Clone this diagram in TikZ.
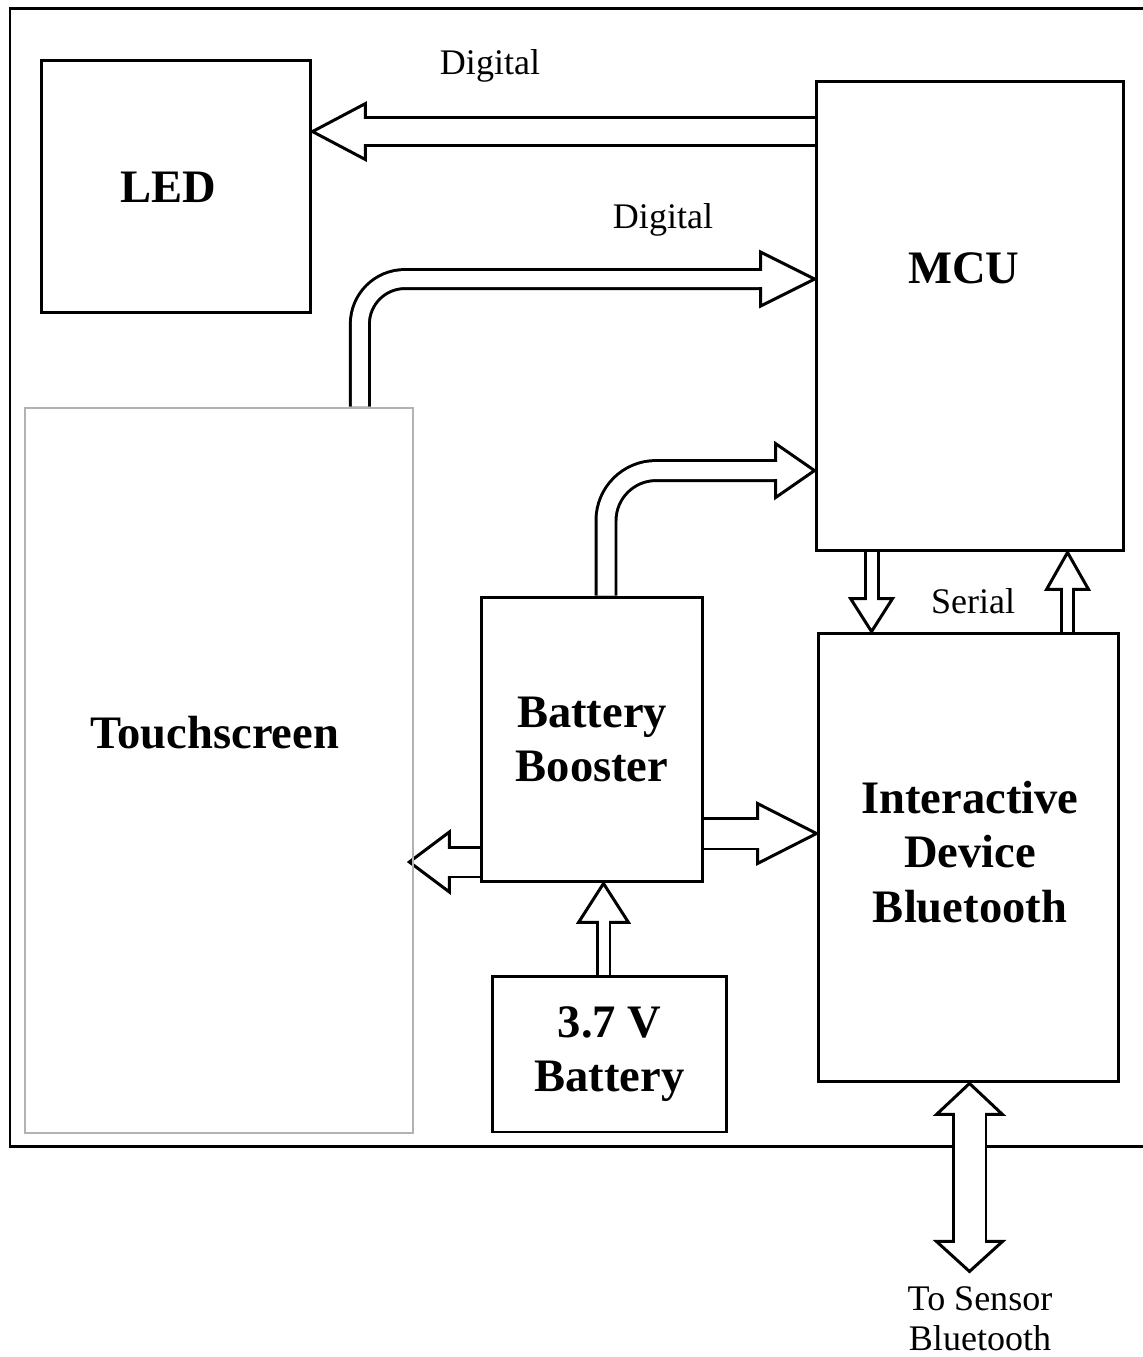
\documentclass[tikz,border=0pt]{standalone}
\usepackage{fontspec}
\setmainfont{Liberation Serif}
\usetikzlibrary{calc}
\pgfdeclarelayer{frame}
\pgfdeclarelayer{links}
\pgfsetlayers{frame,links,main}

\begin{document}
\begin{tikzpicture}[
    x=0.02cm, y=-0.02cm,
    box/.style={rectangle, draw, line width=1.7pt, align=center,
                font=\bfseries\fontsize{26.5}{31}\selectfont},
    title/.style={font=\bfseries\fontsize{26.5}{31}\selectfont, align=center},
    lbl/.style={font=\fontsize{20.5}{22.7}\selectfont, align=center},
    shaft/.style={double=white, double distance=#1, line width=1.7pt},
    pics/bhead/.style args={#1/#2/#3}{code={
        \draw[line width=1.7pt, fill=white] (0,0) -- (-#1,#2) -- (-#1,-#2) -- cycle;
        \fill[white] (-#1-2,-#3/2) rectangle (-#1+2,#3/2);}}
]
\useasboundingbox (0,0) rectangle (1143,1357);

\node[box, minimum width=5.4cm, minimum height=5.06cm] (led) at (176,186.5) {};
\node[title] (ledtxt) at (168,187) {LED};
\node[box, minimum width=6.16cm, minimum height=9.4cm] (mcu) at (970,316) {};
\node[title] (mcutxt) at (964,268) {MCU};
\node[box, draw=gray!60, line width=1.6pt, minimum width=7.76cm, minimum height=14.5cm] (touch) at (219,770.5) {};
\node[title] (touchtxt) at (215,733) {Touchscreen};
\node[box, minimum width=4.44cm, minimum height=5.7cm] (boost) at (592,739.5) {Battery\\Booster};
\node[box, minimum width=4.7cm, minimum height=3.12cm] (batt) at (609.5,1054) {3.7 V\\Battery};
\node[box, minimum width=6.02cm, minimum height=8.98cm] (bt) at (968.5,857.5) {};
\node[title] (bttxt) at (970,852) {Interactive\\Device\\Bluetooth};

\node[lbl] (dig1) at (490,66) {Digital};
\node[lbl] (dig2) at (663,220) {Digital};
\node[lbl] (serial) at (973,601) {Serial};
\node[lbl] (sensor) at (980,1319) {To Sensor\\Bluetooth};

\begin{pgfonlayer}{frame}
\draw[line width=1.7pt] (10,8) rectangle (1150,1146);
\end{pgfonlayer}

\begin{pgfonlayer}{links}
% MCU to LED
\coordinate (a1) at ($(mcu.north west)+(0,52)$);
\draw[shaft=0.5cm] (a1) -- ($(led.east |- a1)+(53,0)$);
\pic[rotate=180] at (led.east |- a1) {bhead=53/28/25};
% touchscreen to MCU
\coordinate (a2) at ($(touch.north east)+(-54.5,0)$);
\coordinate (a2t) at ($(mcu.north west)+(0,199.5)$);
\draw[shaft=0.32cm, rounded corners=0.9cm] (a2) -- (a2 |- a2t) -- ($(a2t)+(-54,0)$);
\pic at (a2t) {bhead=54/27/16};
% booster to MCU
\coordinate (a3) at ($(boost.north)+(14,0)$);
\coordinate (a3t) at ($(mcu.north west)+(0,391)$);
\draw[shaft=0.34cm, rounded corners=1cm] (a3) -- (a3 |- a3t) -- ($(a3t)+(-39,0)$);
\pic at (a3t) {bhead=39/27/17};
% serial link
\coordinate (a4) at ($(mcu.south west)+(57,0)$);
\draw[shaft=0.2cm] (a4) -- ($(a4 |- bt.north)+(0,-33)$);
\pic[rotate=-90] at (a4 |- bt.north) {bhead=33/21/10};
\coordinate (a5) at ($(bt.north west)+(251,0)$);
\draw[shaft=0.18cm] (a5) -- ($(a5 |- mcu.south)+(0,37)$);
\pic[rotate=90] at (a5 |- mcu.south) {bhead=37/21/9};
% booster outputs
\coordinate (a6) at ($(boost.west)+(0,122.5)$);
\coordinate (a6t) at ($(touch.east |- a6)+(-5,0)$);
\draw[shaft=0.54cm] (a6) -- ($(a6t)+(40,0)$);
\pic[rotate=180] at (a6t) {bhead=40/30/27};
\coordinate (a7) at ($(boost.east)+(0,94)$);
\draw[shaft=0.56cm] (a7) -- ($(bt.west |- a7)+(-59,0)$);
\pic at (bt.west |- a7) {bhead=59/30/28};
% battery to booster
\coordinate (a8) at ($(batt.north)+(-6,0)$);
\draw[shaft=0.2cm] (a8) -- ($(a8 |- boost.south)+(0,39)$);
\pic[rotate=90] at (a8 |- boost.south) {bhead=39/25/10};
% to sensor
\coordinate (a9) at ($(bt.south)+(1,0)$);
\coordinate (sens) at ($(a9)+(0,188)$);
\draw[shaft=0.6cm] ($(a9)+(0,31)$) -- ($(sens)+(0,-30)$);
\pic[rotate=90] at (a9) {bhead=31/33/30};
\pic[rotate=-90] at (sens) {bhead=30/33/30};
\end{pgfonlayer}
\end{tikzpicture}
\end{document}
